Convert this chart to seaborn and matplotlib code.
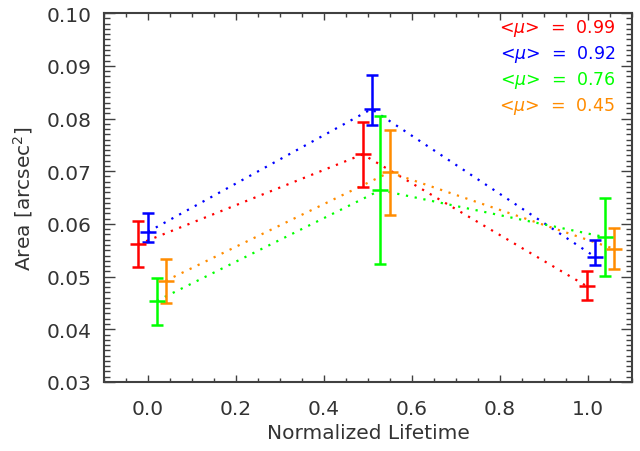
import numpy as np
import pandas as pd
import seaborn as sns
import matplotlib
matplotlib.use("Agg")
import matplotlib.pyplot as plt
from matplotlib.ticker import MultipleLocator

# ------------------------------
# Data
# ------------------------------
labels = ["0.99", "0.92", "0.76", "0.45"]
colors = ["#ff0000", "#0000ff", "#00ff00", "#ff8c00"]

x_red = [-0.023, 0.488, 0.997]
x_blue = [0.0, 0.508, 1.017]
x_green = [0.02, 0.528, 1.038]
x_orange = [0.04, 0.549, 1.058]

area_red = [0.0561, 0.0732, 0.0482]
area_blue = [0.0585, 0.0818, 0.0537]
area_green = [0.0454, 0.0664, 0.0575]
area_orange = [0.0492, 0.0698, 0.0553]

low_red = [0.0519, 0.0670, 0.0456]
low_blue = [0.0566, 0.0787, 0.0522]
low_green = [0.0409, 0.0523, 0.0501]
low_orange = [0.0449, 0.0617, 0.0514]

high_red = [0.0605, 0.0794, 0.0510]
high_blue = [0.0620, 0.0882, 0.0569]
high_green = [0.0498, 0.0805, 0.0650]
high_orange = [0.0533, 0.0779, 0.0592]

xs = [x_red, x_blue, x_green, x_orange]
areas = [area_red, area_blue, area_green, area_orange]
lows = [low_red, low_blue, low_green, low_orange]
highs = [high_red, high_blue, high_green, high_orange]

rows = []
for lab, x, a in zip(labels, xs, areas):
    for xi, ai in zip(x, a):
        rows.append({"mu": lab, "lifetime": xi, "area": ai})
df = pd.DataFrame(rows)

sns.set_style("ticks")
plt.rcParams["font.family"] = ["DejaVu Sans"]

fig = plt.figure(figsize=(6.4, 4.52), dpi=100)
ax = fig.add_axes([0.1625, 0.1527, 0.825, 0.816])

sns.lineplot(
    data=df, x="lifetime", y="area", hue="mu",
    hue_order=labels, palette=colors,
    linestyle=(0, (1, 3)), linewidth=1.6,
    legend=False, ax=ax, sort=False
)

for x, a, lo, hi, c in zip(xs, areas, lows, highs, colors):
    a = np.array(a)
    yerr = [a - np.array(lo), np.array(hi) - a]
    ax.errorbar(x, a, yerr=yerr, fmt="_", color=c, ecolor=c,
                markersize=11, markeredgewidth=1.8,
                elinewidth=1.8, capsize=4.5, capthick=1.8)

ax.set_xlim(-0.1, 1.1)
ax.set_ylim(0.03, 0.10)
ax.xaxis.set_major_locator(MultipleLocator(0.2))
ax.xaxis.set_minor_locator(MultipleLocator(0.05))
ax.yaxis.set_major_locator(MultipleLocator(0.01))
ax.yaxis.set_minor_locator(MultipleLocator(0.001))
ax.xaxis.set_major_formatter(plt.FormatStrFormatter("%.1f"))
ax.yaxis.set_major_formatter(plt.FormatStrFormatter("%.2f"))

frame = "#404040"
for s in ax.spines.values():
    s.set_color(frame)
    s.set_linewidth(1.5)
ax.tick_params(axis="both", which="both", direction="in",
               top=True, right=True, colors=frame, labelcolor="#333333",
               labelsize=14.5)
ax.tick_params(axis="x", which="both", pad=12)
ax.tick_params(axis="y", which="both", pad=9)
ax.tick_params(axis="x", which="major", length=5, width=1)
ax.tick_params(axis="x", which="minor", length=3, width=1)
ax.tick_params(axis="y", which="major", length=8, width=1)
ax.tick_params(axis="y", which="minor", length=4, width=1)

ax.set_xlabel("Normalized Lifetime", fontsize=14.5, color="#333333", labelpad=4)
ax.set_ylabel("Area [arcsec$^2$]", fontsize=14.5, color="#333333", labelpad=8)

for i, (lab, c) in enumerate(zip(labels, colors)):
    ax.text(0.968, 0.962 - i * 0.071, r"<$\mu$>  =  " + lab,
            transform=ax.transAxes, ha="right", va="center",
            color=c, fontsize=12.5)

fig.savefig("out.png", dpi=100)
